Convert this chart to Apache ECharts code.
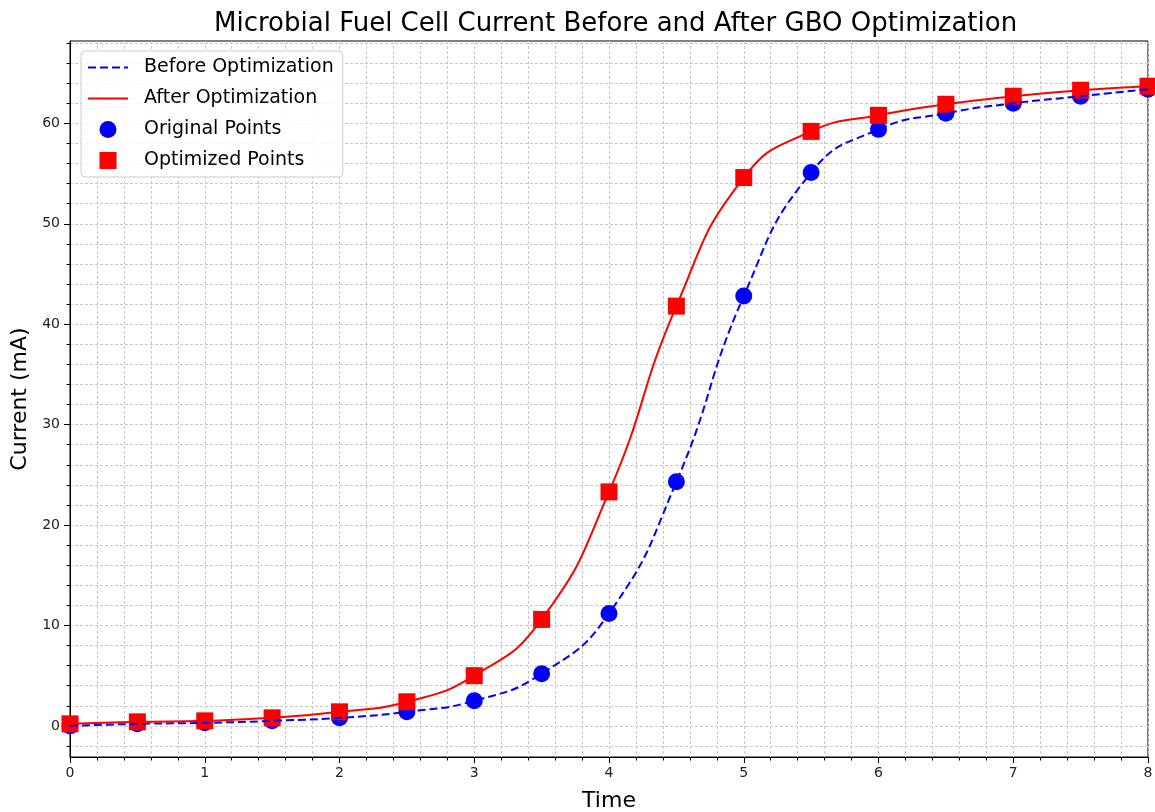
<!DOCTYPE html>
<html>
<head>
<meta charset="utf-8">
<script src="https://cdn.jsdelivr.net/npm/echarts@6/dist/echarts.min.js"></script>
<style>
  html, body { margin: 0; padding: 0; background: #fff; }
  #chart { width: 1155px; height: 812px; }
</style>
</head>
<body>
<div id="chart"></div>
<script>
var times = [0, 0.5, 1, 1.5, 2, 2.5, 3, 3.5, 4, 4.5, 5, 5.5, 6, 6.5, 7, 7.5, 8];
var beforeValues = [0.0, 0.2, 0.3, 0.5, 0.8, 1.4, 2.5, 5.2, 11.2, 24.3, 42.8, 55.1, 59.4, 61.0, 62.0, 62.7, 63.4];
var afterValues = [0.2, 0.4, 0.5, 0.8, 1.4, 2.4, 5.0, 10.6, 23.3, 41.8, 54.6, 59.2, 60.8, 61.9, 62.7, 63.3, 63.7];
var yMajorTicks = [0, 10, 20, 30, 40, 50, 60];
var yMinorTicks = [-2, 2, 4, 6, 8, 12, 14, 16, 18, 22, 24, 26, 28, 32, 34, 36, 38,
  42, 44, 46, 48, 52, 54, 56, 58, 62, 64, 66, 68];

function pairs(xs, ys) {
  return xs.map(function (x, i) {
    return [x, ys[i]];
  });
}

var beforeData = pairs(times, beforeValues);
var afterData = pairs(times, afterValues);

var chart = echarts.init(document.getElementById('chart'));
var font = 'DejaVu Sans';
var gridLine = { show: true, lineStyle: { color: '#c8c8c8', width: 1, type: [3, 2] } };
var yMin = -3.1;
var yMax = 68.2;

var option = {
  animation: false,
  textStyle: { fontFamily: font },
  title: {
    text: 'Microbial Fuel Cell Current Before and After GBO Optimization',
    left: 209,
    top: 6,
    textStyle: { fontFamily: font, fontSize: 26, fontWeight: 'normal', color: '#000' }
  },
  grid: {
    left: 70, right: 7, top: 41, bottom: 55,
    outerBoundsMode: 'none',
    containLabel: false,
    show: true, borderColor: '#000', borderWidth: 1
  },
  legend: {
    orient: 'vertical',
    left: 81, top: 51,
    padding: [7, 9, 7, 6],
    itemWidth: 40, itemHeight: 17, itemGap: 12,
    backgroundColor: 'rgba(255,255,255,0.85)',
    borderColor: '#cccccc', borderWidth: 1, borderRadius: 4,
    textStyle: { fontFamily: font, fontSize: 19, color: '#000', padding: [0, 0, 0, 11] },
    data: [
      { name: 'Before Optimization', itemStyle: { opacity: 0 } },
      { name: 'After Optimization', itemStyle: { opacity: 0 } },
      { name: 'Original Points', icon: 'circle' },
      { name: 'Optimized Points', icon: 'path://M0,0L10,0L10,10L0,10Z' }
    ]
  },
  xAxis: {
    type: 'value',
    min: 0, max: 8, interval: 1,
    name: 'Time', nameLocation: 'middle', nameGap: 33,
    nameTextStyle: { fontFamily: font, fontSize: 22, color: '#000' },
    axisLine: { show: true, onZero: false, lineStyle: { color: '#000' } },
    axisTick: { show: true, length: 6, lineStyle: { color: '#000' } },
    minorTick: { show: true, splitNumber: 5, length: 3.5, lineStyle: { color: '#000' } },
    axisLabel: { fontFamily: font, fontSize: 14, color: '#222', margin: 9 },
    splitLine: gridLine,
    minorSplitLine: gridLine
  },
  yAxis: [
    {
      type: 'value',
      position: 'left',
      min: yMin, max: yMax,
      name: 'Current (mA)', nameLocation: 'middle', nameGap: 38,
      nameTextStyle: { fontFamily: font, fontSize: 22, color: '#000' },
      axisLine: { show: true, onZero: false, lineStyle: { color: '#000' } },
      axisTick: { show: true, length: 3.5, customValues: yMinorTicks, lineStyle: { color: '#000' } },
      axisLabel: { fontFamily: font, fontSize: 14, color: '#222', margin: 10, customValues: yMajorTicks },
      splitLine: { show: false }
    },
    {
      type: 'value',
      position: 'right',
      offset: -1078,
      min: yMin, max: yMax,
      axisLine: { show: false, onZero: false },
      axisTick: { show: true, inside: true, length: 6, customValues: yMajorTicks, lineStyle: { color: '#000' } },
      axisLabel: { show: false },
      splitLine: gridLine
    },
    {
      type: 'value',
      position: 'right',
      min: yMin, max: yMax,
      axisLine: { show: false, onZero: false },
      axisTick: { show: false, customValues: yMinorTicks },
      axisLabel: { show: false },
      splitLine: gridLine
    }
  ],
  series: [
    {
      name: 'Before Optimization',
      type: 'line',
      data: beforeData,
      smooth: 0.5,
      showSymbol: false,
      symbol: 'none',
      color: '#0000ff',
      lineStyle: { color: '#0000ff', width: 2, type: [8, 4] }
    },
    {
      name: 'After Optimization',
      type: 'line',
      data: afterData,
      smooth: 0.5,
      showSymbol: false,
      symbol: 'none',
      color: '#ff0000',
      lineStyle: { color: '#ff0000', width: 2 }
    },
    {
      name: 'Original Points',
      type: 'scatter',
      data: beforeData,
      symbol: 'circle',
      symbolSize: 17,
      itemStyle: { color: '#0000ff', opacity: 1 }
    },
    {
      name: 'Optimized Points',
      type: 'scatter',
      data: afterData,
      symbol: 'rect',
      symbolSize: 17,
      itemStyle: { color: '#ff0000', opacity: 1 }
    }
  ]
};

chart.setOption(option);
</script>
</body>
</html>
